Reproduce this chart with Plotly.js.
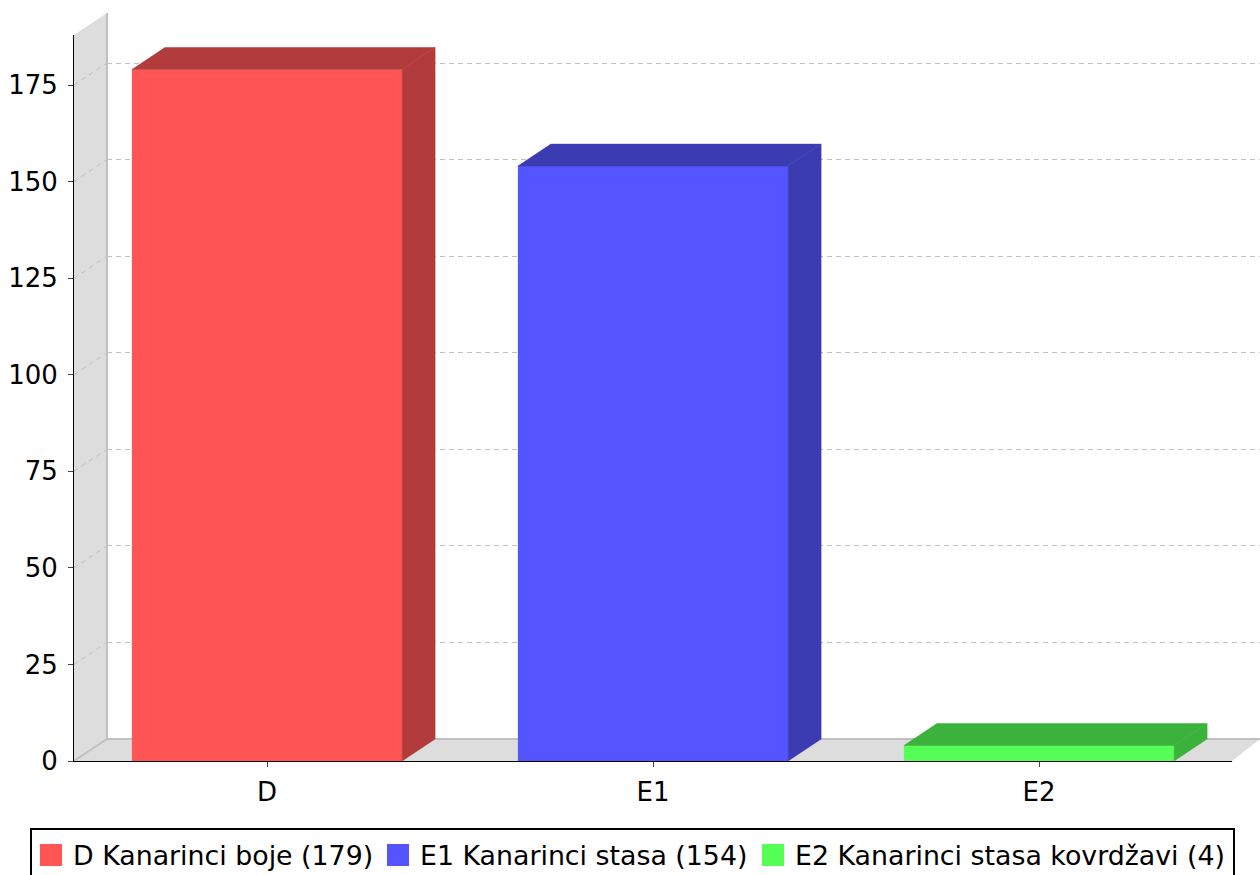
<!DOCTYPE html>
<html>
<head>
<meta charset="utf-8">
<script src="https://cdn.plot.ly/plotly-3.0.1.min.js"></script>
<style>html,body{margin:0;padding:0;background:#fff;}#chart{width:1260px;height:875px;}</style>
</head>
<body>
<div id="chart"></div>
<script>
// ---- data ----
const categories = ["D", "E1", "E2"];
const seriesNames = ["D Kanarinci boje", "E1 Kanarinci stasa", "E2 Kanarinci stasa kovrdžavi"];
const values = [179, 154, 4];
const frontColors = ["#FF5555", "#5555FF", "#55FF55"];
const sideColors = ["#B23B3B", "#3B3BB2", "#3BB23B"];
const yTickValues = [0, 25, 50, 75, 100, 125, 150, 175];
const gridValues = [25, 50, 75, 100, 125, 150, 175];

// ---- geometry (pixels) ----
const W = 1260, H = 875;
const L = 74, R = 1232, B = 761, T = 35;   // front plane
const DX = 33, DY = 22;                      // 3D depth offset
const PW = W - L, PH = B - (T - DY);         // plot area
const pxPerUnit = 676 / 175;
const catPx = (R - L) / categories.length;
const dxD = DX / catPx, dyD = DY / pxPerUnit;
const barW = 0.7;
const yMax = (B - T) / pxPerUnit;

const px2x = p => (p - L) / PW;
const px2y = p => (B - p) / PH;

const FONT = "DejaVu Sans, sans-serif";
const traces = [];

// dummy trace to register back subplot (gridlines)
traces.push({x: [null], y: [null], xaxis: "x", yaxis: "y", type: "scatter", mode: "markers",
  showlegend: false, hoverinfo: "skip"});

categories.forEach((c, i) => {
  const v = values[i];
  traces.push({
    type: "bar", x: [i], y: [v], width: barW, xaxis: "x2", yaxis: "y2",
    marker: {color: frontColors[i], line: {width: 0}},
    name: seriesNames[i] + " (" + v + ")", showlegend: false, hoverinfo: "y"
  });
  const x0 = i - barW / 2, x1 = i + barW / 2;
  // side face
  traces.push({
    type: "scatter", mode: "lines", fill: "toself", xaxis: "x2", yaxis: "y2",
    x: [x1, x1 + dxD, x1 + dxD, x1, x1], y: [0, dyD, v + dyD, v, 0],
    fillcolor: sideColors[i], line: {width: 0.5, color: sideColors[i]},
    showlegend: false, hoverinfo: "skip"
  });
  // top face
  traces.push({
    type: "scatter", mode: "lines", fill: "toself", xaxis: "x2", yaxis: "y2",
    x: [x0, x0 + dxD, x1 + dxD, x1, x0], y: [v, v + dyD, v + dyD, v, v],
    fillcolor: sideColors[i], line: {width: 0.5, color: sideColors[i]},
    showlegend: false, hoverinfo: "skip"
  });
});

const shapes = [];
const pathPx = pts => "M" + pts.map(p => px2x(p[0]) + "," + px2y(p[1])).join(" L") + " Z";
// left wall
shapes.push({type: "path", xref: "paper", yref: "paper", layer: "below",
  path: pathPx([[L, B], [L, T], [L + DX, T - DY], [L + DX, B - DY]]),
  fillcolor: "#DDDDDD", line: {width: 0}});
// floor
shapes.push({type: "path", xref: "paper", yref: "paper", layer: "below",
  path: pathPx([[L, B], [L + DX, B - DY], [W, B - DY], [R, B]]),
  fillcolor: "#DDDDDD", line: {width: 0}});
// wall / floor edges
const edge = (a, b) => shapes.push({type: "line", xref: "paper", yref: "paper", layer: "below",
  x0: px2x(a[0]), y0: px2y(a[1]), x1: px2x(b[0]), y1: px2y(b[1]),
  line: {color: "#C0C0C0", width: 2}});
edge([L + DX, T - DY], [L + DX, B - DY]);
edge([L + DX, B - DY], [W, B - DY]);
edge([L, B], [L + DX, B - DY]);
// diagonal gridlines on the wall
gridValues.forEach(v => shapes.push({type: "line", xref: "x2", yref: "y2", layer: "below",
  x0: -0.5, y0: v, x1: -0.5 + dxD, y1: v + dyD,
  line: {color: "#C0C0C0", width: 1, dash: "5px,4px"}}));

// legend (manual)
const legendBox = {x0: 31, y0: 829, x1: 1234, y1: 880};
shapes.push({type: "rect", xref: "paper", yref: "paper",
  x0: px2x(legendBox.x0), y0: px2y(legendBox.y0), x1: px2x(legendBox.x1), y1: px2y(legendBox.y1),
  line: {color: "#000", width: 2}, fillcolor: "rgba(0,0,0,0)"});
const legendSwatchX = [40, 387, 762];
const swatch = 22, legendMidY = 855;
const annotations = [];
categories.forEach((c, i) => {
  shapes.push({type: "rect", xref: "paper", yref: "paper",
    x0: px2x(legendSwatchX[i]), x1: px2x(legendSwatchX[i] + swatch),
    y0: px2y(legendMidY - swatch / 2), y1: px2y(legendMidY + swatch / 2),
    fillcolor: frontColors[i], line: {width: 0}});
  annotations.push({xref: "paper", yref: "paper", x: px2x(legendSwatchX[i] + swatch + 10), y: px2y(legendMidY),
    xanchor: "left", yanchor: "middle", showarrow: false, borderpad: 0,
    text: seriesNames[i] + " (" + values[i] + ")", font: {family: FONT, size: 26.8, color: "#000"}});
});

const layout = {
  width: W, height: H,
  margin: {l: L, r: 0, t: T - DY, b: H - B, pad: 0},
  paper_bgcolor: "#fff", plot_bgcolor: "rgba(0,0,0,0)",
  showlegend: false, barmode: "overlay",
  xaxis: {domain: [DX / PW, 1], range: [-0.5, -0.5 + (PW - DX) / catPx], showgrid: false,
    zeroline: false, showline: false, showticklabels: false, ticks: "", fixedrange: true},
  yaxis: {domain: [DY / PH, 1], range: [0, yMax], tickvals: gridValues, showgrid: true,
    gridcolor: "#C0C0C0", gridwidth: 1, griddash: "5px,4px", zeroline: false, showline: false,
    showticklabels: false, ticks: "", fixedrange: true},
  xaxis2: {anchor: "y2", domain: [0, (R - L) / PW], range: [-0.5, categories.length - 0.5],
    tickvals: categories.map((c, i) => i), ticktext: categories,
    showgrid: false, zeroline: false, showline: true, linecolor: "#000", linewidth: 1,
    ticks: "outside", ticklen: 5, tickcolor: "#444", tickwidth: 1, ticklabelstandoff: 3,
    tickfont: {family: FONT, size: 26, color: "#000"}, fixedrange: true},
  yaxis2: {anchor: "x2", domain: [0, (B - T) / PH], range: [0, yMax],
    tickvals: yTickValues, showgrid: false, zeroline: false, showline: true, linecolor: "#000", linewidth: 1,
    ticks: "outside", ticklen: 5, tickcolor: "#444", tickwidth: 1, ticklabelstandoff: 5,
    tickfont: {family: FONT, size: 26, color: "#000"}, fixedrange: true},
  shapes: shapes,
  annotations: annotations
};

Plotly.newPlot("chart", traces, layout, {displayModeBar: false, staticPlot: true});
</script>
</body>
</html>
